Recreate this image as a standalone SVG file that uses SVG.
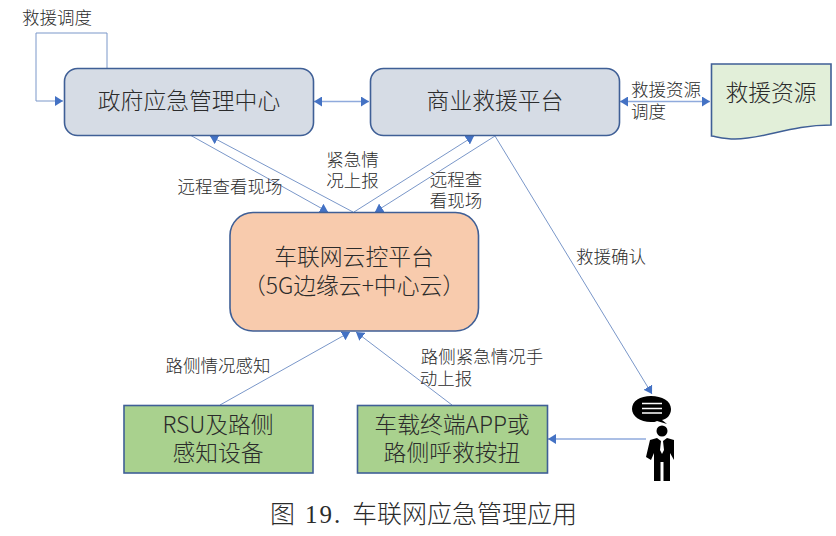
<svg xmlns="http://www.w3.org/2000/svg" width="836" height="536" viewBox="0 0 836 536">
<style>
text{font-family:"Noto Sans CJK SC","Liberation Sans",sans-serif;fill:#2b2b2b;text-anchor:middle}
.n{font-size:22.800px;font-weight:300}
.l{font-size:17.500px;font-weight:300}
.box{stroke:#3f5f96;stroke-width:1.6}
.c{fill:none;stroke:#7a97c9;stroke-width:1}
.c2{fill:none;stroke:#8faadc;stroke-width:1.6}
</style>
<defs>
<marker id="a" markerUnits="userSpaceOnUse" markerWidth="9" markerHeight="10" refX="8" refY="5" orient="auto-start-reverse"><path d="M0,0L8,5L0,10z" fill="#4472c4"/></marker>
</defs>
<rect width="836" height="536" fill="#fff"/>
<g id="connectors">
<path class="c" d="M107,68V33H36V101H63" marker-end="url(#a)"/>
<path class="c2" d="M314,101.500H369" marker-start="url(#a)" marker-end="url(#a)"/>
<path class="c2" d="M620,101.500H710" marker-start="url(#a)" marker-end="url(#a)"/>
<path class="c" d="M190,135L328,212" marker-end="url(#a)"/>
<path class="c" d="M353,212L210,136" marker-end="url(#a)"/>
<path class="c" d="M354,212L474,136" marker-end="url(#a)"/>
<path class="c" d="M495,136L375,212" marker-end="url(#a)"/>
<path class="c" d="M495,136L652,394" marker-end="url(#a)"/>
<path class="c" d="M220,405L350,332" marker-end="url(#a)"/>
<path class="c" d="M452,405L356,332" marker-end="url(#a)"/>
<path class="c2" d="M646,439H548" marker-end="url(#a)"/>
</g>
<g id="gov"><rect class="box" x="64.500" y="68.500" width="249" height="67" rx="13" fill="#d6dce5"/><text class="n" x="189" y="109">政府应急管理中心</text></g>
<g id="commercial"><rect class="box" x="370.500" y="68.500" width="249" height="67" rx="13" fill="#d6dce5"/><text class="n" x="495" y="109">商业救援平台</text></g>
<g id="resource"><path class="box" d="M711.500,64H831V125C790,125 765,139 735,139C725,139 718,137 711.500,136z" fill="#e2efd9"/><text class="n" x="771" y="101">救援资源</text></g>
<g id="cloud"><rect class="box" x="230" y="212.500" width="248.500" height="118.500" rx="23" fill="#f8cbad"/><text class="n" x="354" y="265">车联网云控平台</text><text class="n" x="354" y="294">（5G边缘云+中心云）</text></g>
<g id="rsu"><rect class="box" x="124" y="405.500" width="189" height="67.500" fill="#a9d18e"/><text class="n" x="218" y="433">RSU及路侧</text><text class="n" x="218" y="461">感知设备</text></g>
<g id="app"><rect class="box" x="357.500" y="405.500" width="190" height="67.500" fill="#a9d18e"/><text class="n" x="452" y="433">车载终端APP或</text><text class="n" x="452" y="461">路侧呼救按扭</text></g>
<g id="person">
<path d="M651,396C662,396 671,401 671,409C671,415 667,419 662,420L667,424L657,421C656,422 653,422 651,422C640,422 632,416 632,409C632,401 640,396 651,396z" fill="#000"/>
<path d="M642,403.500H662M642,408.500H662M642,413H662" stroke="#fff" stroke-width="1.500"/>
<circle cx="662" cy="431" r="5.500" fill="#000"/>
<path d="M657,438L650,440L646,457L651,460L654,453V481H660.500V462H663.500V481H670V453L674,460V440L667,438L663,441L664,450L662,454L660,450L661,441z" fill="#000"/>
</g>
<g id="labels">
<text class="l" x="57" y="24">救援调度</text>
<text class="l" x="230" y="193">远程查看现场</text>
<text class="l" x="352.500" y="166">紧急情</text>
<text class="l" x="352.500" y="187">况上报</text>
<text class="l" x="456" y="186">远程查</text>
<text class="l" x="456" y="207">看现场</text>
<text class="l" x="666" y="96">救援资源</text>
<text class="l" x="648.500" y="118">调度</text>
<text class="l" x="611" y="263">救援确认</text>
<text class="l" x="218" y="372">路侧情况感知</text>
<text class="l" x="482" y="363">路侧紧急情况手</text>
<text class="l" x="446" y="385">动上报</text>
</g>
<text font-size="25" y="523" style="font-family:'Liberation Serif','Noto Sans CJK SC',serif;font-weight:300;text-anchor:start;letter-spacing:0"><tspan x="270">图</tspan><tspan x="305" style="letter-spacing:2px">19.</tspan><tspan x="352">车联网应急管理应用</tspan></text>
</svg>
